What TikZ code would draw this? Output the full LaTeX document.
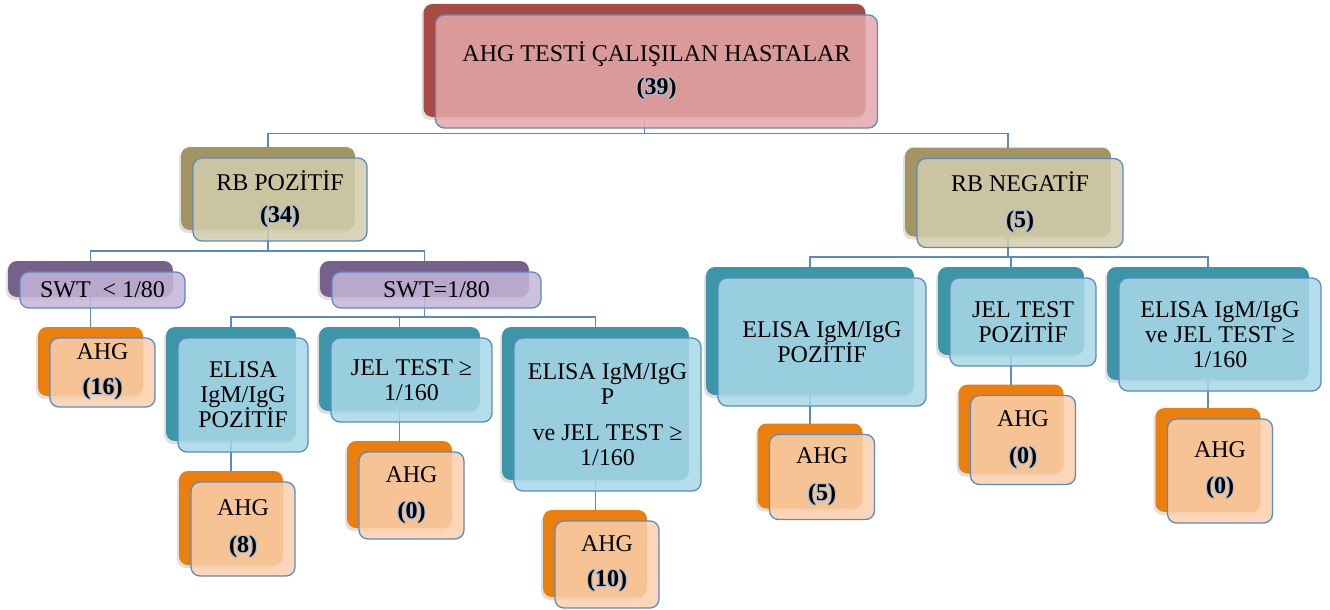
\documentclass[tikz,border=0pt]{standalone}
\usepackage{fontspec}
\setmainfont{Liberation Serif}
\usetikzlibrary{shadows,calc}
\definecolor{cRedS}{HTML}{A84B45}
\definecolor{cRedF}{HTML}{E3A8A8}
\definecolor{cTanS}{HTML}{A39563}
\definecolor{cTanF}{HTML}{D2CDAB}
\definecolor{cPurS}{HTML}{76608C}
\definecolor{cPurF}{HTML}{C4B5D7}
\definecolor{cTealS}{HTML}{3D95A8}
\definecolor{cTealF}{HTML}{A8D8E8}
\definecolor{cOrS}{HTML}{EB7F0D}
\definecolor{cOrF}{HTML}{FACFAC}
\definecolor{cBord}{HTML}{5A8AC6}
\definecolor{cGlow}{HTML}{A9BED4}
\pgfdeclarelayer{shl}
\pgfdeclarelayer{lnl}
\pgfsetlayers{shl,lnl,main}
\tikzset{
  frontbox/.style={draw=cBord, line width=1.3pt, rounded corners=9pt,
    fill opacity=0.85, text opacity=1, inner sep=0pt, outer sep=0pt,
    align=center, font=\fontsize{24}{25}\selectfont},
  backbox/.style={rounded corners=9pt, inner sep=0pt, outer sep=0pt,
    drop shadow={opacity=0.25, shadow xshift=-2pt, shadow yshift=-3pt}},
  conn/.style={draw=cBord, line width=1.5pt},
}
\def\gcopy#1#2#3{\rlap{\kern#1\raise#2\hbox{\color{cGlow}\bfseries#3}}}
\newcommand\numg[1]{\leavevmode\gcopy{1.2pt}{0pt}{#1}\gcopy{-1.2pt}{0pt}{#1}%
  \gcopy{0pt}{1.2pt}{#1}\gcopy{0pt}{-1.2pt}{#1}\gcopy{.85pt}{.85pt}{#1}%
  \gcopy{-.85pt}{.85pt}{#1}\gcopy{.85pt}{-.85pt}{#1}\gcopy{-.85pt}{-.85pt}{#1}%
  {\bfseries#1}}
% #1 name, #2 cx, #3 cy, #4 w, #5 h, #6 colour key, #7 text
\newcommand\tbox[7]{%
  \begin{pgfonlayer}{shl}
  \node[backbox, fill=c#6S, minimum width=#4pt, minimum height=#5pt] (#1) at (#2-12,#3-11) {};
  \end{pgfonlayer}
  \node[frontbox, fill=c#6F, minimum width=#4pt, minimum height=#5pt] (#1F) at (#2,#3) {#7};}
\begin{document}
\begin{tikzpicture}[x=1pt,y=-1pt]
\useasboundingbox (0,0) rectangle (1330,610);
\tbox{top}{656.5}{71.5}{442}{113}{Red}{AHG TESTİ ÇALIŞILAN HASTALAR\\[8pt]\numg{(39)}}
\tbox{rbp}{280}{199.5}{174}{83}{Tan}{RB POZİTİF\\[7pt]\numg{(34)}}
\tbox{rbn}{1020}{203}{206}{89}{Tan}{RB NEGATİF\\[11pt]\numg{(5)}}
\tbox{swtL}{102.5}{290}{165}{36}{Pur}{SWT\ \ < 1/80}
\tbox{swtE}{436.5}{290}{209}{36}{Pur}{SWT=1/80}
\tbox{ahgA}{102.5}{372.5}{105}{69}{Or}{AHG\\[10pt]\numg{(16)}}
\tbox{elisaL}{243}{395}{130}{114}{Teal}{ELISA\\IgM/IgG\\POZİTİF}
\tbox{jelA}{411.5}{380}{161}{84}{Teal}{JEL TEST ≥\\1/160}
\tbox{elisaP}{607.5}{414.5}{187}{153}{Teal}{ELISA IgM/IgG\\P\\[11pt]ve JEL TEST ≥\\1/160}
\tbox{ahgB}{243}{529}{104}{94}{Or}{AHG\\[12pt]\numg{(8)}}
\tbox{ahgC}{411.5}{495.5}{105}{87}{Or}{AHG\\[11pt]\numg{(0)}}
\tbox{ahgD}{607}{564.5}{104}{87}{Or}{AHG\\[10pt]\numg{(10)}}
\tbox{elisaR}{822}{342}{208}{128}{Teal}{ELISA IgM/IgG\\POZİTİF}
\tbox{jelB}{1023}{322}{146}{88}{Teal}{JEL TEST\\POZİTİF}
\tbox{elisaJ}{1220}{334.5}{202}{113}{Teal}{ELISA IgM/IgG\\ve JEL TEST ≥\\1/160}
\tbox{ahgE}{822}{477}{105}{85}{Or}{AHG\\[12pt]\numg{(5)}}
\tbox{ahgF}{1023}{440}{105}{89}{Or}{AHG\\[12pt]\numg{(0)}}
\tbox{ahgG}{1220}{471}{105}{104}{Or}{AHG\\[11pt]\numg{(0)}}
\begin{pgfonlayer}{lnl}
\draw[conn] (top.south) -- ++(0,16.5) -| (rbp.north);
\draw[conn] (top.south) -- ++(0,16.5) -| (rbn.north);
\draw[conn] (rbp.south) -- ++(0,21) -| (swtL.north);
\draw[conn] (rbp.south) -- ++(0,21) -| (swtE.north);
\draw[conn] (swtL.south) -- (swtL.south |- ahgA.north);
\draw[conn] (swtE.south) -- ++(0,20) -| (elisaL.north);
\draw[conn] (swtE.south) -- ++(0,20) -| (jelA.north);
\draw[conn] (swtE.south) -- ++(0,20) -| (elisaP.north);
\draw[conn] (elisaL.south) -- (elisaL.south |- ahgB.north);
\draw[conn] (jelA.south) -- (jelA.south |- ahgC.north);
\draw[conn] (elisaP.south) -- (elisaP.south |- ahgD.north);
\draw[conn] (rbn.south) -- ++(0,20.5) -| (elisaR.north);
\draw[conn] (rbn.south) -- ++(0,20.5) -| (jelB.north);
\draw[conn] (rbn.south) -- ++(0,20.5) -| (elisaJ.north);
\draw[conn] (elisaR.south) -- (elisaR.south |- ahgE.north);
\draw[conn] (jelB.south) -- (jelB.south |- ahgF.north);
\draw[conn] (elisaJ.south) -- (elisaJ.south |- ahgG.north);
\end{pgfonlayer}
\end{tikzpicture}
\end{document}
